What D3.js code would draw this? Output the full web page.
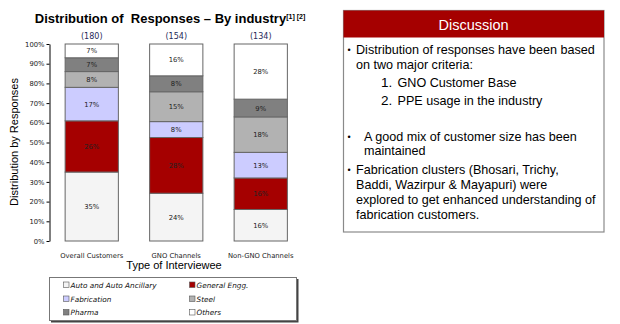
<!DOCTYPE html>
<html><head><meta charset="utf-8">
<script src="https://cdn.jsdelivr.net/npm/d3@7"></script>
<style>body{margin:0;background:#fff;}svg{display:block;font-family:"Liberation Sans",Arial,sans-serif;}</style>
</head><body><svg id="c" width="620" height="324"></svg>
<script>
const categories = ["Overall Customers", "GNO Channels", "Non-GNO Channels"];
const counts = ["(180)", "(154)", "(134)"];
const seriesNames = ["Auto and Auto Ancillary", "General Engg.", "Fabrication", "Steel", "Pharma", "Others"];
const autoVals = [35, 24, 16];
const generalVals = [26, 28, 16];
const fabricationVals = [17, 8, 13];
const steelVals = [8, 15, 18];
const pharmaVals = [7, 8, 9];
const othersVals = [7, 16, 28];
const yTicks = [0, 0.1, 0.2, 0.3, 0.4, 0.5, 0.6, 0.7, 0.8, 0.9, 1];
const colors = ["#f4f4f4", "#a50000", "#ccccff", "#b2b2b2", "#808080", "#ffffff"];
const discussion = [
  {t:"bullet", x:356, y:54, s:"Distribution of responses have been based"},
  {t:"line", x:356, y:68.5, s:"on two major criteria:"},
  {t:"num", n:"1.", x:397.5, y:87, s:"GNO Customer Base"},
  {t:"num", n:"2.", x:397.5, y:105, s:"PPE usage in the industry"},
  {t:"bullet2", x:364, y:140.5, s:"A good mix of customer size has been"},
  {t:"line", x:364, y:155, s:"maintained"},
  {t:"bullet", x:356, y:174, s:"Fabrication clusters (Bhosari, Trichy,"},
  {t:"line", x:356, y:188.5, s:"Baddi, Wazirpur & Mayapuri) were"},
  {t:"line", x:356, y:203.5, s:"explored to get enhanced understanding of"},
  {t:"line", x:356, y:218.5, s:"fabrication customers."}
];

const svg = d3.select("#c");
const allVals = [autoVals, generalVals, fabricationVals, steelVals, pharmaVals, othersVals];
const rows = categories.map((c, i) => {
  const o = {cat: c};
  seriesNames.forEach((s, k) => o[s] = allVals[k][i]);
  return o;
});
const stack = d3.stack().keys(seriesNames).offset(d3.stackOffsetExpand)(rows);

const x = d3.scaleBand().domain(categories).range([49.5, 303]).paddingInner(0.37).paddingOuter(0.185);
const y = d3.scaleLinear().domain([0, 1]).range([241, 44]);

// title
const title = svg.append("text").attr("x", 170).attr("y", 23).attr("text-anchor", "middle")
  .attr("font-size", 13).attr("font-weight", "bold").attr("fill", "#000").style("white-space", "pre");
title.append("tspan").text("Distribution of  Responses \u2013 By industry");
title.append("tspan").attr("font-size", 7).attr("dy", -4).text("[1] [2]");

// axis
const yAxis = d3.axisLeft(y).tickValues(yTicks).tickFormat(d3.format(".0%")).tickSize(3).tickSizeOuter(0);
const ga = svg.append("g").attr("transform", "translate(49.5,0)").call(yAxis);
ga.select(".domain").attr("stroke", "#000");
ga.selectAll(".tick line").attr("stroke", "#000");
ga.selectAll(".tick text").attr("fill", "#222").attr("x", -5)
  .attr("font-family", "DejaVu Sans, sans-serif").attr("font-size", 6.8);

// bars
stack.forEach((layer, k) => {
  const g = svg.append("g");
  layer.forEach((d, i) => {
    const cat = categories[i];
    g.append("rect").attr("x", x(cat)).attr("y", y(d[1])).attr("width", x.bandwidth())
      .attr("height", y(d[0]) - y(d[1])).attr("fill", colors[k]).attr("stroke", "#666").attr("stroke-width", 1);
    g.append("text").attr("x", x(cat) + x.bandwidth() / 2).attr("y", (y(d[0]) + y(d[1])) / 2 + 2.5)
      .attr("text-anchor", "middle").attr("font-size", 6.8).attr("font-family", "DejaVu Sans, sans-serif")
      .attr("fill", "#222").text(allVals[k][i] + "%");
  });
});

// counts
categories.forEach((c, i) => {
  svg.append("text").attr("x", x(c) + x.bandwidth() / 2).attr("y", 39).attr("text-anchor", "middle")
    .attr("font-size", 8).attr("font-family", "DejaVu Sans, sans-serif").attr("fill", "#1f2a5a").text(counts[i]);
  svg.append("text").attr("x", x(c) + x.bandwidth() / 2).attr("y", 258).attr("text-anchor", "middle")
    .attr("font-size", 6.8).attr("font-family", "DejaVu Sans, sans-serif").attr("fill", "#222").text(c);
});

// axis titles
svg.append("text").attr("x", 174).attr("y", 269).attr("text-anchor", "middle").attr("font-size", 11).attr("fill", "#000").text("Type of Interviewee");
svg.append("text").attr("transform", "translate(18,142) rotate(-90)").attr("text-anchor", "middle").attr("font-size", 11).attr("fill", "#000").text("Distribution by Responses");

// legend
svg.append("rect").attr("x", 51).attr("y", 279).attr("width", 247.5).attr("height", 43.5).attr("fill", "#444");
svg.append("rect").attr("x", 49.5).attr("y", 277.5).attr("width", 247).attr("height", 43).attr("fill", "#fff").attr("stroke", "#777");
seriesNames.forEach((s, k) => {
  const cx = k % 2 === 0 ? 63.5 : 189.5;
  const cy = [285, 299, 312.5][Math.floor(k / 2)];
  svg.append("rect").attr("x", cx).attr("y", cy - 3).attr("width", 5.5).attr("height", 5.5)
    .attr("fill", colors[k]).attr("stroke", "#555").attr("stroke-width", 0.6);
  svg.append("text").attr("x", cx + 7).attr("y", cy + 2.5).attr("font-size", 7.3).attr("font-style", "italic")
    .attr("font-family", "DejaVu Sans, sans-serif").attr("fill", "#111").text(s);
});

// discussion panel
svg.append("rect").attr("x", 343.5).attr("y", 10.5).attr("width", 260.5).attr("height", 221.5).attr("fill", "#fff").attr("stroke", "#8a8a8a").attr("stroke-width", 1.2);
svg.append("rect").attr("x", 343.5).attr("y", 10.5).attr("width", 260.5).attr("height", 27).attr("fill", "#a50000");
svg.append("text").attr("x", 473.5).attr("y", 30).attr("text-anchor", "middle").attr("font-size", 14.5).attr("fill", "#fff").text("Discussion");
discussion.forEach(d => {
  const t = svg.append("text").attr("y", d.y).attr("font-size", 12.6).attr("fill", "#000");
  if (d.t === "bullet" || d.t === "bullet2") {
    svg.append("text").attr("x", 347.5).attr("y", d.y - 1).attr("font-size", 9).text("\u2022");
  }
  if (d.t === "num") {
    svg.append("text").attr("x", 381).attr("y", d.y).attr("font-size", 13.5).text(d.n);
  }
  t.attr("x", d.x).text(d.s);
});
</script></body></html>
